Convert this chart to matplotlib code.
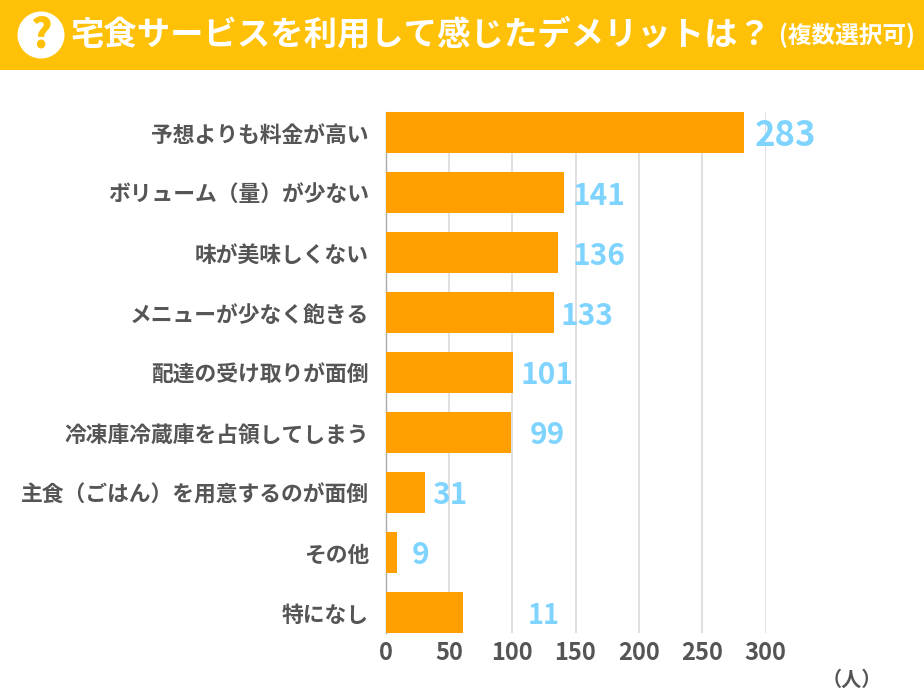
import matplotlib
matplotlib.use("Agg")
import matplotlib.pyplot as plt
from matplotlib.patches import Rectangle, Circle

plt.rcParams['font.family'] = ['Noto Sans CJK JP', 'DejaVu Sans']

categories = ["予想よりも料金が高い", "ボリューム（量）が少ない", "味が美味しくない",
              "メニューが少なく飽きる", "配達の受け取りが面倒", "冷凍庫冷蔵庫を占領してしまう",
              "主食（ごはん）を用意するのが面倒", "その他", "特になし"]
bar_values = [283, 141, 136, 133, 101, 99, 31, 9, 61]
value_labels = ["283", "141", "136", "133", "101", "99", "31", "9", "11"]
x_ticks = [0, 50, 100, 150, 200, 250, 300]
title = "宅食サービスを利用して感じたデメリットは？"
subtitle = "(複数選択可)"
unit = "（人）"

label_offsets_px = [42, 35, 41, 33, 34, 36, 25, 24, 81]
label_sizes = [25, 21.5, 21.5, 21.5, 21.5, 21.5, 21.5, 21.5, 19.5]
label_dy_px = [-3, -3, -3, -3, -3, -3, -3, -3, -4]

W, H = 924, 700
fig = plt.figure(figsize=(W / 100, H / 100), dpi=100, facecolor="white")

bg = fig.add_axes([0, 0, 1, 1], zorder=0)
bg.set_xlim(0, W); bg.set_ylim(H, 0); bg.axis("off")
bg.add_patch(Rectangle((0, 0), W, 70, color="#FFC107", lw=0))
bg.add_patch(Circle((41, 35), 23.5, color="white", lw=0))
bg.text(41, 35, "?", color="#FFC107", fontsize=29, fontweight="black", ha="center", va="center")
bg.text(70, 35, title, color="white", fontsize=24, fontweight="bold", ha="left", va="center")
bg.text(847, 35, subtitle, color="white", fontsize=17, fontweight="bold", ha="center", va="center")
bg.text(852, 679, unit, color="#555555", fontsize=14.5, fontweight="bold", ha="center", va="center")

ax = fig.add_axes([385.5 / W, 1 - 633 / H, 380 / W, 521 / H], zorder=1)
ax.patch.set_alpha(0)
ypos = list(range(len(categories)))
ax.barh(ypos, bar_values, height=0.683, color="#FF9F00", linewidth=0, zorder=3)
ax.set_xlim(0, 300)
ax.set_ylim(8.342, -0.342)
ax.set_yticks(ypos)
ax.set_yticklabels(categories, color="#555555", fontsize=15.7, fontweight="bold")
ax.set_xticks(x_ticks)
ax.set_xticklabels([str(t) for t in x_ticks], color="#555555", fontsize=17, fontweight="bold")
ax.tick_params(axis="both", length=0)
ax.tick_params(axis="y", pad=12)
ax.tick_params(axis="x", pad=6)
ax.grid(axis="x", color="#DDDDDD", linewidth=1.3, zorder=0)
ax.set_axisbelow(True)
for s in ("top", "right", "bottom"):
    ax.spines[s].set_visible(False)
ax.spines["left"].set_color("#AAAAAA")
ax.spines["left"].set_linewidth(1)

for y, v, lab, off, dy, size in zip(ypos, bar_values, value_labels, label_offsets_px, label_dy_px, label_sizes):
    ax.annotate(lab, xy=(v, y), xytext=(off * 0.72, dy * 0.72), textcoords="offset points",
                ha="center", va="center", color="#7FD4FF", fontsize=size,
                fontweight="bold", annotation_clip=False, zorder=4)

fig.savefig("out.png", dpi=100, facecolor="white")
